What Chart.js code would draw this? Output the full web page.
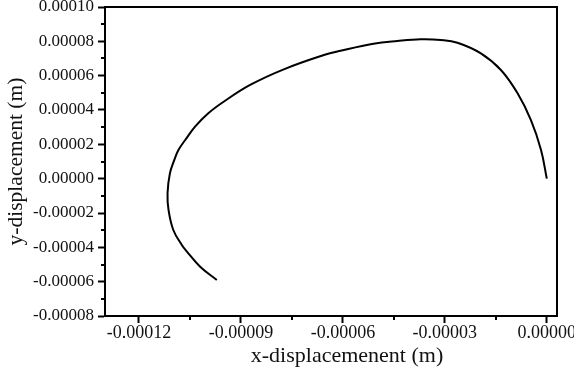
<!DOCTYPE html>
<html>
<head>
<meta charset="utf-8">
<script src="https://cdn.jsdelivr.net/npm/chart.js@4"></script>
<style>
  html, body { margin: 0; padding: 0; background: #fff; }
  #wrap { width: 574px; height: 373px; }
</style>
</head>
<body>
<div id="wrap"><canvas id="trajChart"></canvas></div>
<script>
// trajectory samples, in micrometres (converted to metres below)
const xDispUm = [0, -1.7, -4.7, -8.6, -13.5, -19.4, -26.3, -31.2, -37.1, -44.0, -51.0, -60.7, -65.6,
    -77.4, -87.3, -95.1, -99.6, -103.5, -106.4, -108.4, -109.6, -110.9, -111.6, -111.3, -109.9,
    -107.4, -105.9, -102.0, -97.1];
const yDispUm = [0, 16.7, 34.2, 49.7, 63.3, 73.0, 79.2, 80.8, 81.2, 80.2, 78.6, 74.5, 72.0,
    63.7, 54.6, 44.8, 38.1, 30.3, 22.5, 16.7, 10.9, 3.1, -8.5, -18.3, -29.9,
    -38.6, -42.5, -51.3, -59.0];

const xTicks = [-0.00012, -0.00009, -0.00006, -0.00003, 0];
const xMinorTicks = [-0.000105, -0.000075, -0.000045, -0.000015];
const yTicks = [-0.00008, -0.00006, -0.00004, -0.00002, 0, 0.00002, 0.00004, 0.00006, 0.00008, 0.0001];
const yMinorTicks = [-0.00007, -0.00005, -0.00003, -0.00001, 0.00001, 0.00003, 0.00005, 0.00007, 0.00009];

const xTitle = "x-displacemenent (m)";
const yTitle = "y-displacement (m)";

const points = xDispUm.map((x, i) => ({ x: x * 1e-6, y: yDispUm[i] * 1e-6 }));

const serif = "'Liberation Serif', 'Times New Roman', serif";

// box around the plot area, short minor tick marks and the x title
const frame = {
    id: "frame",
    afterDraw(chart) {
        const { ctx, chartArea: a, scales } = chart;
        ctx.save();
        ctx.strokeStyle = "#000";
        ctx.lineWidth = 2;
        ctx.strokeRect(a.left, a.top, a.right - a.left, a.bottom - a.top);
        ctx.beginPath();
        xMinorTicks.forEach(v => {
            const px = Math.round(scales.x.getPixelForValue(v));
            ctx.moveTo(px, a.bottom);
            ctx.lineTo(px, a.bottom + 4);
        });
        yMinorTicks.forEach(v => {
            const py = Math.round(scales.y.getPixelForValue(v));
            ctx.moveTo(a.left, py);
            ctx.lineTo(a.left - 4, py);
        });
        ctx.stroke();

        ctx.fillStyle = "#111";
        ctx.font = "22px " + serif;
        ctx.textAlign = "center";
        ctx.textBaseline = "alphabetic";
        ctx.fillText(xTitle, (a.left + a.right) / 2 + 16, 362);
        ctx.restore();
    }
};

new Chart(document.getElementById("trajChart"), {
    type: "line",
    data: {
        datasets: [{
            data: points,
            borderColor: "#000",
            borderWidth: 2,
            pointRadius: 0,
            tension: 0.4,
            fill: false
        }]
    },
    options: {
        responsive: true,
        maintainAspectRatio: false,
        animation: false,
        layout: { padding: { left: 0, top: 7, right: 17, bottom: 0 } },
        plugins: { legend: { display: false }, tooltip: { enabled: false } },
        scales: {
            x: {
                type: "linear",
                min: -0.00013,
                max: 0.000003,
                afterBuildTicks: s => { s.ticks = xTicks.map(v => ({ value: v })); },
                afterFit: s => { s.height = 57; s.paddingLeft = 0; s.paddingRight = 0; },
                grid: { display: true, drawOnChartArea: false, drawTicks: true, tickLength: 7, tickWidth: 2, tickColor: "#000" },
                border: { display: true, color: "#000", width: 2 },
                ticks: {
                    padding: -1,
                    maxRotation: 0,
                    autoSkip: false,
                    color: "#111",
                    font: { family: serif, size: 18 },
                    callback: v => v.toFixed(5)
                },
                title: { display: false }
            },
            y: {
                type: "linear",
                min: -0.00008,
                max: 0.0001,
                afterBuildTicks: s => { s.ticks = yTicks.map(v => ({ value: v })); },
                afterFit: s => { s.width = 105; s.paddingTop = 0; s.paddingBottom = 0; },
                grid: { display: true, drawOnChartArea: false, drawTicks: true, tickLength: 7, tickWidth: 2, tickColor: "#000" },
                border: { display: true, color: "#000", width: 2 },
                ticks: {
                    padding: 4,
                    autoSkip: false,
                    color: "#111",
                    font: { family: serif, size: 17 },
                    callback: v => v.toFixed(5)
                },
                title: {
                    display: true,
                    text: yTitle,
                    color: "#111",
                    font: { family: serif, size: 21.5 },
                    padding: { top: 3, bottom: 0 }
                }
            }
        }
    },
    plugins: [frame]
});
</script>
</body>
</html>
